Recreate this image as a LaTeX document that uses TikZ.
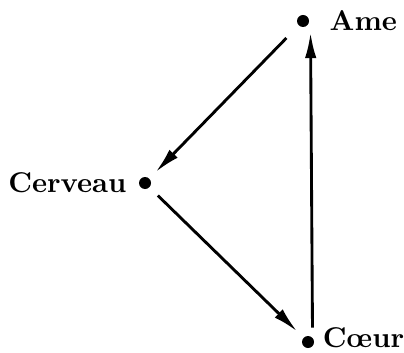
\documentclass[tikz,border=0pt]{standalone}
\usetikzlibrary{arrows.meta}

\begin{document}
\begin{tikzpicture}[x=0.35pt, y=-0.35pt,
    pt/.style={circle, fill, inner sep=0pt, minimum size=4.2pt},
    lbl/.style={font=\bfseries},
    arr/.style={-{Latex[length=9pt, width=4pt]}, line width=1pt}
]
    \useasboundingbox (0,0) rectangle (404,352);

    % Points
    \node[pt, label={[lbl, xshift=3.5pt]right:Ame}] (ame) at (303,21) {};
    \node[pt, label={[lbl, xshift=-0.7pt]left:Cerveau}] (cerveau) at (145,183) {};
    \node[pt, label={[lbl, xshift=-0.6pt, yshift=1.5pt]right:C\oe ur}] (coeur) at (308,342) {};

    % Arrows
    \draw[arr, shorten <=6pt, shorten >=3pt] (ame) -- (cerveau);
    \draw[arr, shorten <=4pt, shorten >=3pt] (cerveau) -- (coeur);
    \draw[arr, shorten <=5pt, shorten >=4pt] ([xshift=1.6pt]coeur.center) -- ([xshift=2.6pt]ame.center);
\end{tikzpicture}
\end{document}
